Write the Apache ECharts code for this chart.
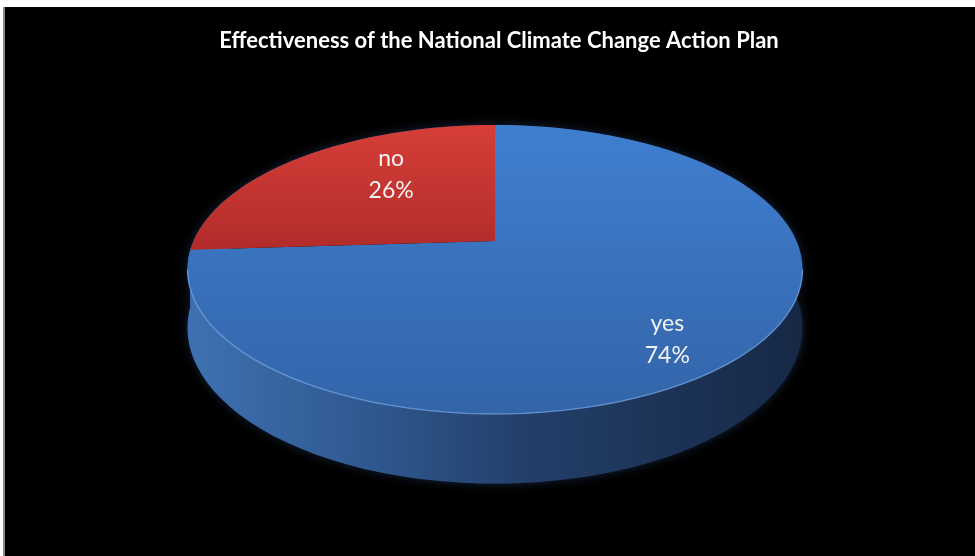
<!DOCTYPE html>
<html>
<head>
<meta charset="utf-8">
<script src="https://cdn.jsdelivr.net/npm/echarts@6/dist/echarts.min.js"></script>
<style>
  html, body { margin: 0; padding: 0; background: #fff; width: 975px; height: 556px; overflow: hidden; }
  #frame { position: absolute; left: 3px; top: 7px; width: 972px; height: 549px; background: #000;
           border-left: 2px solid #8c8c8c; box-sizing: border-box; }
  #chart { position: absolute; left: 0; top: 0; width: 970px; height: 549px; }
</style>
</head>
<body>
<div id="frame"><div id="chart"></div></div>
<script>
// ---- data ----
const titleText = 'Effectiveness of the National Climate Change Action Plan';
const categories = ['yes', 'no'];
const shares = [74, 26];

// ---- look of the tilted disc ----
const geo = { cx: 490, cy: 234, a: 301.5, b: 138.9, k: 0.197, depth: 56 };
const topColors = [
  ['#3f7fd0', '#3364a8'],
  ['#d63e38', '#b22c2a']
];
const topGradY = [[118, 410], [118, 242]];
const labelRadius = [0.8, 0.65];
const labelTurnDeg = [8, 11];
const STEPS = 120;

// perspective projection of a point of the unit disc; theta runs clockwise from 12 o'clock
function project(theta, r, drop) {
  const u = r * Math.sin(theta);
  const v = r * Math.cos(theta);
  const d = 1 + geo.k * v;
  return [geo.cx + geo.a * u / d, geo.cy - geo.b * v / d + (drop || 0) / d];
}

const total = shares.reduce((s, x) => s + x, 0);
function sliceAngles(i) {
  let before = 0;
  for (let j = 0; j < i; j++) before += shares[j];
  const a0 = 2 * Math.PI * before / total;
  const a1 = 2 * Math.PI * (before + shares[i]) / total;
  return [a0, a1];
}
function arc(a0, a1, drop) {
  const n = Math.max(2, Math.ceil(STEPS * (a1 - a0) / (2 * Math.PI)));
  const pts = [];
  for (let s = 0; s <= n; s++) pts.push(project(a0 + (a1 - a0) * s / n, 1, drop));
  return pts;
}

const tableData = categories.map((c, i) => [c, shares[i]]);

// outer wall of each slice
function renderWall(params, api) {
  const i = params.dataIndex;
  const [a0, a1] = sliceAngles(i);
  const top = arc(a0, a1, 0);
  const bottom = arc(a0, a1, geo.depth).reverse();
  return {
    type: 'polygon',
    shape: { points: top.concat(bottom) },
    style: {
      fill: new echarts.graphic.LinearGradient(geo.cx - geo.a - 8, 0, geo.cx + geo.a + 8, 0, [
        { offset: 0, color: '#3f71b2' },
        { offset: 0.3, color: '#2f588f' },
        { offset: 0.55, color: '#233f69' },
        { offset: 1, color: '#162845' }
      ], true),
      shadowBlur: 10,
      shadowColor: 'rgba(60,100,170,0.35)'
    }
  };
}

// top face, rim highlight and value label of each slice
function renderTop(params, api) {
  const i = params.dataIndex;
  const [a0, a1] = sliceAngles(i);
  const pts = [project(0, 0, 0)].concat(arc(a0, a1, 0));
  const children = [{
    type: 'polygon',
    shape: { points: pts },
    style: {
      fill: new echarts.graphic.LinearGradient(0, topGradY[i][0], 0, topGradY[i][1], [
        { offset: 0, color: topColors[i][0] },
        { offset: 1, color: topColors[i][1] }
      ], true)
    }
  }];
  // front rim (the part of the edge that has a visible wall under it)
  const lo = Math.max(a0, Math.acos(-geo.k));
  const hi = Math.min(a1, 2 * Math.PI - Math.acos(-geo.k));
  if (hi > lo) {
    children.push({
      type: 'polyline',
      shape: { points: arc(lo, hi, 0) },
      style: { stroke: 'rgba(120,170,235,0.75)', lineWidth: 1.3, fill: null }
    });
  }
  const mid = (a0 + a1) / 2 + labelTurnDeg[i] * Math.PI / 180;
  const p = project(mid, labelRadius[i], 0);
  const pct = Math.round(api.value(1) / total * 100);
  children.push({
    type: 'text',
    x: p[0], y: p[1],
    style: {
      text: categories[i] + '\n' + pct + '%',
      fill: '#f2f2f2',
      font: '23px Lato, "Open Sans", sans-serif',
      lineHeight: 32,
      align: 'center',
      verticalAlign: 'middle'
    }
  });
  return { type: 'group', children };
}

const chart = echarts.init(document.getElementById('chart'), null, { renderer: 'canvas' });
chart.setOption({
  backgroundColor: '#000',
  animation: false,
  title: {
    text: titleText,
    left: 489,
    textAlign: 'center',
    top: 18,
    textStyle: { color: '#ffffff', fontFamily: 'Lato', fontWeight: 'bold', fontSize: 22 }
  },
  dataset: { source: tableData },
  series: [
    { type: 'custom', coordinateSystem: 'none', renderItem: renderWall, z: 1,
      encode: { itemName: 0, value: 1 } },
    { type: 'custom', coordinateSystem: 'none', renderItem: renderTop, z: 2,
      encode: { itemName: 0, value: 1 } }
  ]
});
</script>
</body>
</html>
